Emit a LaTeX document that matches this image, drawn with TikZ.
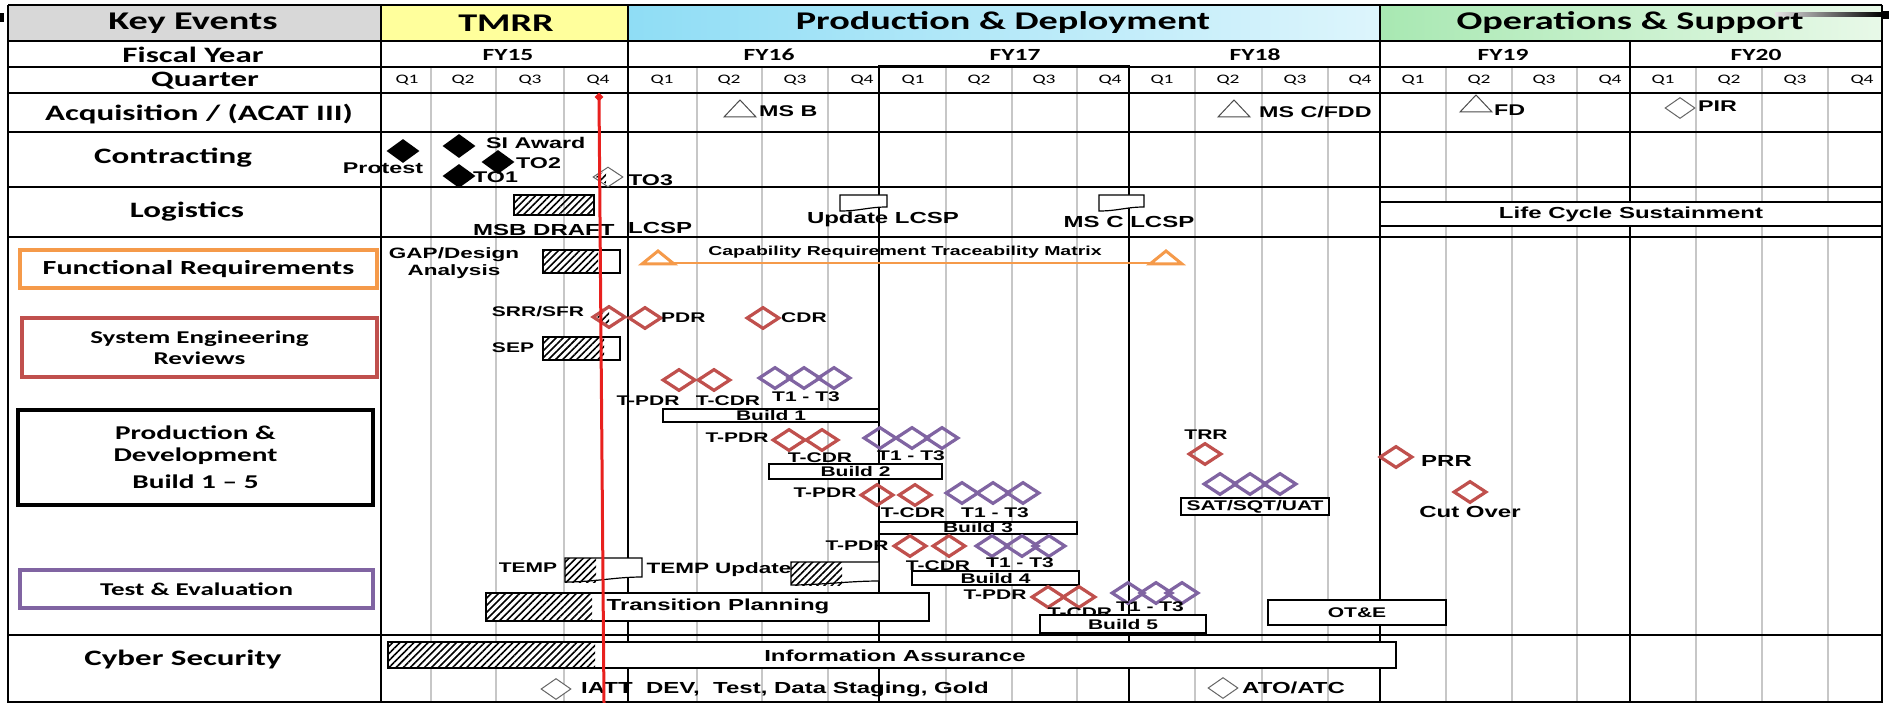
\documentclass[tikz,border=0pt]{standalone}
\usepackage{fontspec}
\newfontfamily\calfont[FakeStretch=1.5]{Carlito}
\newfontfamily\arifont[FakeStretch=1.5]{Liberation Sans}
\usetikzlibrary{shapes.geometric,patterns.meta}
\definecolor{rdc}{HTML}{C0504D}
\definecolor{pdc}{HTML}{8064A2}
\definecolor{orc}{HTML}{F59A4A}
\definecolor{hdgrey}{HTML}{D8D8D8}
\definecolor{tmrr}{HTML}{FFFF9C}
\definecolor{pdl}{HTML}{8FDDF5}
\definecolor{pdr}{HTML}{DDF5FC}
\definecolor{osl}{HTML}{A8E8B2}
\definecolor{osr}{HTML}{E8F9E8}
\definecolor{todayred}{HTML}{E8201E}
\tikzset{
 gridl/.style={draw=black!22, line width=1.4pt},
 yr/.style={draw=black, line width=1.8pt},
 hatchfill/.style={pattern={Lines[angle=45,distance=5pt,line width=1.6pt]}},
 rd/.style={diamond, draw=rdc, line width=3.2pt, minimum width=33pt, minimum height=22pt, inner sep=0pt},
 pd/.style={rd, draw=pdc},
 bd/.style={diamond, fill=black, minimum width=33pt, minimum height=24pt, inner sep=0pt},
 gd/.style={diamond, draw=black!60, line width=1pt, minimum width=30pt, minimum height=21pt, inner sep=0pt, fill=white},
 tri/.style={draw=black!70, line width=1pt, fill=white},
 otri/.style={draw=orc, line width=3pt, fill=white},
 lab/.style={inner sep=0pt, font=\arifont\bfseries\fontsize{14}{16}\selectfont},
 lmid/.style={inner sep=0pt, font=\arifont\bfseries\fontsize{15.5}{17}\selectfont},
 lbig/.style={inner sep=0pt, font=\arifont\bfseries\fontsize{16}{18}\selectfont},
 hdr/.style={inner sep=0pt, font=\calfont\bfseries\fontsize{25.5}{28}\selectfont},
 keyc/.style={inner sep=0pt, align=center, font=\calfont\bfseries\fontsize{22}{24}\selectfont},
 fy/.style={inner sep=0pt, font=\calfont\bfseries\fontsize{17}{18}\selectfont},
 ql/.style={inner sep=0pt, font=\calfont\fontsize{13}{14}\selectfont},
 bbox/.style={draw=black, line width=1.3pt, fill=white, inner sep=0pt},
 catbox/.style={inner sep=0pt, align=center, fill=white},
}
\newcommand\mytri[4][tri]{\draw[#1] (#2-16,#4) -- (#2,#3) -- (#2+16,#4) -- cycle;}
\begin{document}
\begin{tikzpicture}[x=1pt,y=-1pt]
\useasboundingbox (0,0) rectangle (1889,703);
\fill[white] (0,0) rectangle (1889,703);
% header fills
\fill[hdgrey] (8,5) rectangle (381,41);
\fill[tmrr] (381,5) rectangle (628,41);
\shade[left color=pdl, right color=pdr] (628,5) rectangle (1380,41);
\shade[left color=osl, right color=osr] (1380,5) rectangle (1882,41);
\shade[left color=black!10, right color=black] (1775,13) rectangle (1882,17);
\fill[black] (0,13) rectangle (4,22);
\fill[black] (1881,11) rectangle (1889,19);
% quarter grid lines
\foreach \x in {431,496,564,697,762,828,946,1012,1077,1195,1262,1328,1446,1512,1577,1696,1762,1828}
  \draw[gridl] (\x,68) -- (\x,703);
% table lines
\foreach \y in {5,41,67,93,132,187,237,635,702}
  \draw[yr] (8,\y) -- (1882,\y);
\foreach \x in {8,381,628,1380,1882}
  \draw[yr] (\x,5) -- (\x,703);
\draw[yr] (1630,41) -- (1630,703);
\draw[yr] (879,66) rectangle (1129,703);
% header texts
\node[hdr] (hKey) at (193,23) {Key Events};
\node[hdr] (hTMRR) at (506,23) {TMRR};
\node[hdr] (hPD) at (1003,23) {Production \& Deployment};
\node[hdr] (hOS) at (1630,23) {Operations \& Support};
\node[fy] (fy15) at (508,55) {FY15};
\node[fy] (fy16) at (769,55) {FY16};
\node[fy] (fy17) at (1015,55) {FY17};
\node[fy] (fy18) at (1255,55) {FY18};
\node[fy] (fy19) at (1503,55) {FY19};
\node[fy] (fy20) at (1756,55) {FY20};
\foreach \x/\q [count=\i] in {407/1,463/2,530/3,598/4, 662/1,729/2,795/3,862/4, 913/1,979/2,1044/3,1110/4, 1162/1,1228/2,1295/3,1360/4, 1413/1,1479/2,1544/3,1610/4, 1663/1,1729/2,1795/3,1862/4}
  \node[ql] (q\i) at (\x,80) {Q\q};
% key column
\node[keyc] (kFY) at (193,55) {Fiscal Year};
\node[keyc] (kQ) at (205,81) {Quarter};
\node[keyc] (kAcq) at (199,114) {Acquisition / (ACAT III)};
\node[keyc] (kCon) at (173,158) {Contracting};
\node[keyc] (kLog) at (187,212) {Logistics};
\node[keyc] (kCyb) at (183,660) {Cyber Security};
\node[catbox, draw=orc, line width=3.5pt, minimum width=357pt, minimum height=38pt, font=\calfont\bfseries\fontsize{20}{22}\selectfont] (kFR) at (198.5,269) {Functional Requirements};
\node[catbox, draw=rdc, line width=3.5pt, minimum width=355pt, minimum height=59pt, font=\calfont\bfseries\fontsize{18}{21}\selectfont] (kSER) at (199.5,347.5) {System Engineering\\Reviews};
\node[catbox, draw=black, line width=4pt, minimum width=355pt, minimum height=95pt, font=\calfont\bfseries\fontsize{19.5}{22}\selectfont] (kPD) at (195.5,457.5) {Production \&\\Development\\[5pt]Build 1 – 5};
\node[catbox, draw=pdc, line width=3.5pt, minimum width=353pt, minimum height=38pt, font=\calfont\bfseries\fontsize{18}{20}\selectfont] (kTE) at (196.5,589) {Test \& Evaluation};
% acquisition
\mytri{740}{100}{117}
\node[lmid, anchor=west] (msb) at (759,111) {MS B};
\mytri{1234}{100}{117}
\node[lmid, anchor=west] (msc) at (1259,112) {MS C/FDD};
\mytri{1476}{95}{112}
\node[lmid, anchor=west] (fd) at (1494,110) {FD};
\node[gd] (pirD) at (1680,108) {};
\node[lmid, anchor=west] (pir) at (1698,106) {PIR};
% contracting
\node[lmid] (protest) at (383,168) {Protest};
\node[bd] (protD) at (403,151) {};
\node[bd] (siD) at (459,146) {};
\node[bd] (to2D) at (498,162) {};
\node[bd] (to1D) at (459,176) {};
\node[lmid, anchor=west] (si) at (486,143) {SI Award};
\node[lmid, anchor=west] (to2) at (516,163) {TO2};
\node[lmid, anchor=west] (to1) at (473,177) {TO1};
\node[gd, minimum width=30pt, minimum height=20pt] (to3D) at (608,177) {};
\fill[hatchfill] (596,177) -- (606,170) -- (606,184) -- cycle;
\node[lmid, anchor=west] (to3) at (628,180) {TO3};
% logistics
\filldraw[bbox, hatchfill] (514,195) rectangle (594,215);
\node[lbig, anchor=west] (msbd) at (473,230) {MSB DRAFT};
\node[lbig, anchor=west] (lcsp1) at (628,228) {LCSP};
\draw[line width=1.2pt, fill=white] (840,195) -- (887,195) -- (887,207) .. controls (868,207) and (860,211) .. (840,211) -- cycle;
\node[lbig] (updl) at (883,219) {Update LCSP};
\draw[line width=1.2pt, fill=white] (1099,195) -- (1144,195) -- (1144,207) .. controls (1126,207) and (1118,211) .. (1099,211) -- cycle;
\node[lbig] (mscl) at (1129,222) {MS C LCSP};
\node[bbox, minimum width=502pt, minimum height=24pt, lbig] (lcs) at (1631,214) {Life Cycle Sustainment};
% functional requirements
\node[lmid, align=center, font=\arifont\bfseries\fontsize{15}{17}\selectfont] (gap) at (454,263) {GAP/Design\\Analysis};
\fill[white] (543,250) rectangle (620,273);
\fill[hatchfill] (543,250) rectangle (598,273);
\draw[line width=1.2pt] (543,250) rectangle (620,273);
\coordinate (crtmL) at (672,263);
\coordinate (crtmR) at (1152,263);
\draw[orc, line width=1.5pt] (crtmL) -- (crtmR);
\mytri[otri]{658}{251}{264}
\mytri[otri]{1166}{251}{264}
\node[lab, font=\arifont\bfseries\fontsize{13}{15}\selectfont] (crtm) at (905,252) {Capability Requirement Traceability Matrix};
% system engineering reviews
\node[lab] (srr) at (538,312) {SRR/SFR};
\fill[hatchfill] (597,317) -- (609,309) -- (609,326) -- cycle;
\node[rd] (srrD) at (609,317) {};
\node[rd] (pdrD) at (645,318) {};
\node[lab, anchor=west] (pdr) at (661,318) {PDR};
\node[rd] (cdrD) at (763,318) {};
\node[lab, anchor=west] (cdr) at (781,318) {CDR};
\node[lab] (sep) at (513,348) {SEP};
\fill[white] (543,337) rectangle (620,360);
\fill[hatchfill] (543,337) rectangle (604,360);
\draw[line width=1.2pt] (543,337) rectangle (620,360);
% build 1
\node[rd] (b1r1) at (679,380) {};
\node[rd] (b1r2) at (714,380) {};
\node[pd] (b1p1) at (775,378) {};
\node[pd] (b1p2) at (804,378) {};
\node[pd] (b1p3) at (834,378) {};
\node[lab] (b1tp) at (648,401) {T-PDR};
\node[lab] (b1tc) at (728,401) {T-CDR};
\node[lab] (b1tt) at (806,397) {T1 - T3};
\node[bbox, lab, minimum width=216pt, minimum height=13pt] (b1) at (771,415.5) {Build 1};
% build 2
\node[rd] (b2r1) at (789,440) {};
\node[rd] (b2r2) at (822,440) {};
\node[pd] (b2p1) at (880,438) {};
\node[pd] (b2p2) at (912,438) {};
\node[pd] (b2p3) at (942,438) {};
\node[lab] (b2tp) at (737,438) {T-PDR};
\node[lab] (b2tc) at (820,458) {T-CDR};
\node[lab] (b2tt) at (911,456) {T1 - T3};
\node[bbox, lab, minimum width=173pt, minimum height=15pt] (b2) at (855.5,471.5) {Build 2};
% build 3
\node[rd] (b3r1) at (877,495) {};
\node[rd] (b3r2) at (915,495) {};
\node[pd] (b3p1) at (962,493) {};
\node[pd] (b3p2) at (993,493) {};
\node[pd] (b3p3) at (1023,493) {};
\node[lab] (b3tp) at (825,493) {T-PDR};
\node[lab] (b3tc) at (913,513) {T-CDR};
\node[lab] (b3tt) at (995,513) {T1 - T3};
\node[bbox, lab, minimum width=198pt, minimum height=12pt] (b3) at (978,528) {Build 3};
% build 4
\node[rd] (b4r1) at (910,546) {};
\node[rd] (b4r2) at (949,546) {};
\node[pd] (b4p1) at (992,546) {};
\node[pd] (b4p2) at (1022,546) {};
\node[pd] (b4p3) at (1049,546) {};
\node[lab] (b4tp) at (857,546) {T-PDR};
\node[lab] (b4tc) at (938,566) {T-CDR};
\node[lab] (b4tt) at (1020,563) {T1 - T3};
\node[bbox, lab, minimum width=167pt, minimum height=14pt] (b4) at (995.5,578) {Build 4};
% build 5
\node[rd] (b5r1) at (1048,597) {};
\node[rd] (b5r2) at (1079,597) {};
\node[pd] (b5p1) at (1128,593) {};
\node[pd] (b5p2) at (1156,593) {};
\node[pd] (b5p3) at (1182,593) {};
\node[lab] (b5tp) at (995,595) {T-PDR};
\node[lab] (b5tc) at (1080,613) {T-CDR};
\node[lab] (b5tt) at (1150,607) {T1 - T3};
\node[bbox, lab, minimum width=166pt, minimum height=18pt] (b5) at (1123,624) {Build 5};
% TRR, SAT, PRR, Cut over, OT&E
\node[lab] (trr) at (1206,435) {TRR};
\node[rd] (trrD) at (1205,454) {};
\node[pd] (sat1) at (1220,484) {};
\node[pd] (sat2) at (1250,484) {};
\node[pd] (sat3) at (1280,484) {};
\node[bbox, lab, minimum width=148pt, minimum height=17pt] (sat) at (1255,506.5) {SAT/SQT/UAT};
\node[rd] (prrD) at (1396,457) {};
\node[lbig, anchor=west] (prr) at (1421,461) {PRR};
\node[rd] (coD) at (1470,492) {};
\node[lbig] (co) at (1470,512) {Cut Over};
\node[bbox, lab, minimum width=178pt, minimum height=25pt] (ote) at (1357,612.5) {OT\&E};
% test & evaluation
\node[lab] (temp) at (528,568) {TEMP};
\fill[white] (565,558) -- (642,558) -- (642,577) .. controls (615,577) and (595,582) .. (565,582) -- cycle;
\fill[hatchfill] (565,558) rectangle (596,582);
\draw[line width=1.2pt] (565,558) -- (642,558) -- (642,577) .. controls (615,577) and (595,582) .. (565,582) -- cycle;
\node[lab, font=\arifont\bfseries\fontsize{15}{17}\selectfont] (tempu) at (719,570) {TEMP Update};
\fill[white] (791,562) -- (879,562) -- (879,581) .. controls (850,581) and (820,585) .. (791,585) -- cycle;
\fill[hatchfill] (791,562) rectangle (842,585);
\draw[line width=1.2pt] (791,562) -- (879,562) -- (879,581) .. controls (850,581) and (820,585) .. (791,585) -- cycle;
\fill[white] (486,593) rectangle (929,621);
\fill[hatchfill] (486,593) rectangle (592,621);
\draw[line width=1.2pt] (486,593) rectangle (929,621);
\node[lbig] (tp) at (718,606) {Transition Planning};
% cyber security
\fill[white] (388,642) rectangle (1396,668);
\fill[hatchfill] (388,642) rectangle (595,668);
\draw[line width=1.2pt] (388,642) rectangle (1396,668);
\node[lbig] (ia) at (895,656) {Information Assurance};
\node[gd] (iattD) at (556,689) {};
\node[lbig, anchor=west] (iatt) at (581,689) {IATT\ \ DEV,\ \ Test, Data Staging, Gold};
\node[gd] (atoD) at (1223,688) {};
\node[lbig, anchor=west] (ato) at (1242,688) {ATO/ATC};
% today line
\coordinate (todayEnd) at (604,703);
\node[diamond, fill=todayred, minimum width=9pt, minimum height=9pt, inner sep=0pt] (today) at (599,97) {};
\draw[todayred, line width=3pt] (today.center) -- (todayEnd);
\end{tikzpicture}
\end{document}
